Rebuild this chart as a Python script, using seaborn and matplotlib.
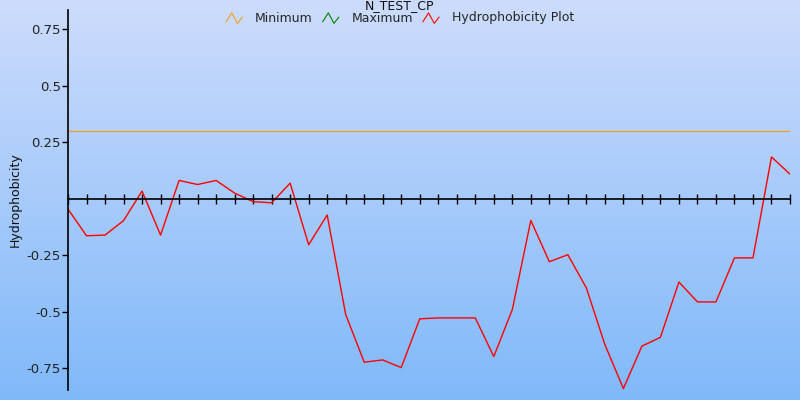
# hydrophobicity profile, re-drawn with seaborn / matplotlib
import numpy as np
import pandas as pd
import matplotlib
matplotlib.use("Agg")
import matplotlib.pyplot as plt
import seaborn as sns
from matplotlib.lines import Line2D
from matplotlib.legend_handler import HandlerBase
from matplotlib.colors import LinearSegmentedColormap

# data
position = list(range(40))
hydrophobicity = [-0.046, -0.164, -0.161, -0.097, 0.034, -0.161, 0.081, 0.063, 0.081, 0.025,
                  -0.013, -0.018, 0.069, -0.204, -0.072, -0.513, -0.724, -0.714, -0.748, -0.532,
                  -0.528, -0.528, -0.528, -0.699, -0.491, -0.096, -0.279, -0.248, -0.395, -0.646,
                  -0.841, -0.653, -0.614, -0.369, -0.457, -0.457, -0.262, -0.262, 0.185, 0.109]
minimum = [0.3] * 40
maximum = []  # not visible inside the plotted range
ytick_values = [-0.75, -0.5, -0.25, 0.25, 0.5, 0.75]
ytick_labels = ['-0.75', '-0.5', '-0.25', '0.25', '0.5', '0.75']

df = pd.DataFrame({'pos': position, 'hyd': hydrophobicity, 'min': minimum})


class ZigZagHandler(HandlerBase):
    '''small zigzag icon used as legend handle'''
    def create_artists(self, legend, orig_handle, xdescent, ydescent, width, height, fontsize, trans):
        xs = np.array([0.0, 0.35, 0.7, 1.0]) * width - xdescent
        ys = (np.array([0.15, 1.0, 0.0, 0.6]) * 1.1 - 0.15) * height - ydescent
        line = Line2D(xs, ys, color=orig_handle.get_color(), lw=0.8)
        line.set_transform(trans)
        return [line]


sns.set_theme(style='white')
plt.rcParams['font.family'] = ['DejaVu Sans']
plt.rcParams['font.size'] = 9.5

fig = plt.figure(figsize=(8, 4), dpi=100)

# gradient background over the whole figure
bg = fig.add_axes([0, 0, 1, 1], zorder=-10)
cmap = LinearSegmentedColormap.from_list('bg', ['#cddcfc', '#80b9f9'])
bg.imshow(np.linspace(0, 1, 256).reshape(-1, 1), aspect='auto', cmap=cmap, extent=[0, 1, 0, 1])
bg.set_axis_off()

ax = fig.add_axes([68 / 800, 1 - 389.5 / 400, (790 - 68) / 800, (389.5 - 10) / 400])
ax.set_facecolor('none')

sns.lineplot(data=df, x='pos', y='min', ax=ax, color='#f0a020', lw=0.9)
sns.lineplot(x=maximum, y=maximum, ax=ax, color='#008000', lw=0.9)
sns.lineplot(data=df, x='pos', y='hyd', ax=ax, color='red', lw=1.0)

ax.set_xlim(0, 39)
ax.set_ylim(-0.845, 0.836)

for s in ['top', 'right']:
    ax.spines[s].set_visible(False)
ax.spines['bottom'].set_position(('data', 0))
ax.spines['left'].set_color('black')
ax.spines['bottom'].set_color('black')
ax.spines['left'].set_linewidth(1.2)
ax.spines['bottom'].set_linewidth(1.2)

ax.set_xticks(position)
ax.set_xticklabels([])
ax.tick_params(axis='x', direction='inout', length=7, width=1, color='black', bottom=True)
ax.set_yticks(ytick_values)
ax.set_yticklabels(ytick_labels)
ax.tick_params(axis='y', direction='out', length=4, width=1, color='black', left=True, pad=1,
               labelsize=9.5, labelcolor='#222222')
ax.set_xlabel('')
ax.set_ylabel('')

# axis label and title placed by hand, as in the reference
fig.text(15 / 800, 0.5, 'Hydrophobicity', rotation=90, ha='center', va='center', fontsize=9, color='#111111')
fig.text(0.5, 1 - 6 / 400, 'N_TEST_CP', ha='center', va='center', fontsize=9, color='#111111')

handles = [Line2D([], [], color='#f0a020'), Line2D([], [], color='#008000'), Line2D([], [], color='red')]
labels = ['Minimum', 'Maximum', 'Hydrophobicity Plot']
fig.legend(handles, labels, loc='center', bbox_to_anchor=(0.5, 1 - 18 / 400), ncol=3, frameon=False,
           fontsize=9, handlelength=1.3, handleheight=0.8, handletextpad=1.0, columnspacing=0.8,
           borderpad=0, handler_map={Line2D: ZigZagHandler()})

fig.savefig('out.png', dpi=100)
